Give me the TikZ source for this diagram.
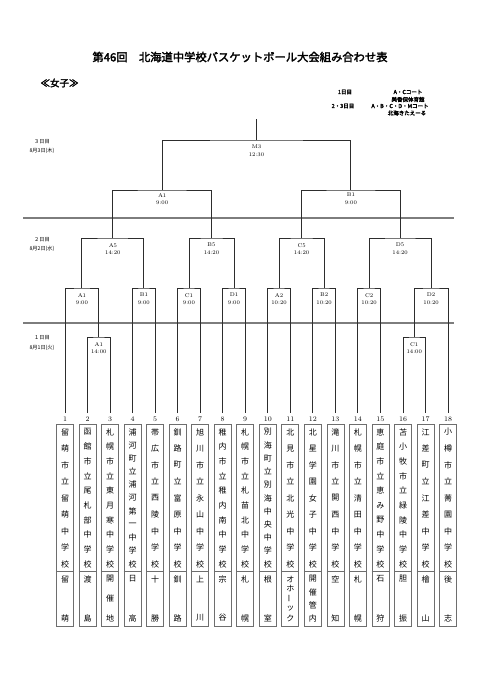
\documentclass[tikz,border=0pt]{standalone}
\usepackage{fontspec}
\newfontfamily\cjk{Noto Sans CJK JP}
\newfontfamily\cjkbold{Noto Sans CJK JP}[FakeBold=2.5]
\usetikzlibrary{calc,positioning}
\definecolor{bracketgray}{RGB}{45,45,45}
\definecolor{rulegray}{RGB}{125,125,125}
\definecolor{boxgray}{RGB}{110,110,110}

\tikzset{
  bracket/.style={draw=bracketgray, line width=0.9pt},
  dayrule/.style={draw=rulegray, line width=1.5pt},
  boxline/.style={draw=boxgray, line width=0.8pt},
  matchlbl/.style={font=\fontsize{5.5}{7.5}\selectfont, align=center, inner sep=0pt, anchor=north},
  daylbl/.style={font=\cjk\fontsize{5.2}{9.5}\selectfont, align=center, inner sep=0pt},
  teamno/.style={font=\fontsize{7}{7}\selectfont, inner sep=0pt},
  schoolbox/.style={boxline, minimum width=17pt, minimum height=202pt, inner sep=0pt},
  tatechar/.style={font=\cjk\fontsize{8}{8}\selectfont, inner sep=0pt},
  infolbl/.style={font=\cjkbold\fontsize{5.5}{6}\selectfont, inner sep=0pt}
}

% vertical text: name, x, top y, bottom y, count, chars
\newcommand{\tate}[6]{%
  \foreach \ch [count=\k from 0] in {#6}
    \node[tatechar] (#1-\k) at (#2,{#3+\k*(#4-#3)/(#5-1)}) {\ch};
}

% team: no, x, count, school, count, area
\newcommand{\team}[6]{%
  \coordinate (t#1) at (#2,413);
  \node[teamno] (no#1) at (#2,419) {#1};
  \node[schoolbox] (box#1) at (#2,525) {};
  \draw[boxline] (box#1.west |- 0,571) -- (box#1.east |- 0,571);
  \tate{s#1}{#2}{432}{564}{#3}{#4}
  \tate{a#1}{#2}{579}{618}{#5}{#6}
}

\begin{document}
\begin{tikzpicture}[x=1pt,y=-1pt]

    \useasboundingbox[fill=white] (0,0) rectangle (481,680);

    % heading
    \node[font=\cjkbold\fontsize{11.3}{13}\selectfont] (title) at (240,57) {第46回　北海道中学校バスケットボール大会組み合わせ表};
    \node[anchor=west, font=\cjkbold\fontsize{9.5}{10}\selectfont] (girls) at (37,83) {≪女子≫};

    % courts
    \node[infolbl] (day1lbl) at (345,92) {1日目};
    \node[infolbl] (court1) at (408,92) {A・Cコート};
    \node[infolbl] (hall1) at (408,99.5) {美香保体育館};
    \node[infolbl] (day23lbl) at (343,106) {2・3日目};
    \node[infolbl] (court23) at (400,106) {A・B・C・D・Mコート};
    \node[infolbl] (hall23) at (407,113) {北海きたえーる};

    % days
    \node[daylbl] (day3) at (42,146.5) {３日目\\8月3日(木)};
    \node[daylbl] (day2) at (42,244.5) {２日目\\8月2日(水)};
    \node[daylbl] (day1) at (42,343) {１日目\\8月1日(火)};

    \draw[dayrule] (23,218) -- (454,218);
    \draw[dayrule] (23,323) -- (454,323);

    % teams
    \team{1}{65}{9}{留,萌,市,立,留,萌,中,学,校}{2}{留,萌}
    \team{2}{87.5}{10}{函,館,市,立,尾,札,部,中,学,校}{2}{渡,島}
    \team{3}{110.1}{10}{札,幌,市,立,東,月,寒,中,学,校}{3}{開,催,地}
    \team{4}{132.6}{11}{浦,河,町,立,浦,河,第,一,中,学,校}{2}{日,高}
    \team{5}{155.1}{9}{帯,広,市,立,西,陵,中,学,校}{2}{十,勝}
    \team{6}{177.7}{9}{釧,路,町,立,富,原,中,学,校}{2}{釧,路}
    \team{7}{200.2}{9}{旭,川,市,立,永,山,中,学,校}{2}{上,川}
    \team{8}{222.7}{10}{稚,内,市,立,稚,内,南,中,学,校}{2}{宗,谷}
    \team{9}{245.2}{10}{札,幌,市,立,札,苗,北,中,学,校}{2}{札,幌}
    \team{10}{267.8}{11}{別,海,町,立,別,海,中,央,中,学,校}{2}{根,室}
    \team{11}{290.3}{9}{北,見,市,立,北,光,中,学,校}{5}{オ,ホ,{\rotatebox{90}{ー}},ッ,ク}
    \team{12}{312.8}{9}{北,星,学,園,女,子,中,学,校}{4}{開,催,管,内}
    \team{13}{335.4}{9}{滝,川,市,立,開,西,中,学,校}{2}{空,知}
    \team{14}{357.9}{9}{札,幌,市,立,清,田,中,学,校}{2}{札,幌}
    \team{15}{380.4}{10}{恵,庭,市,立,恵,み,野,中,学,校}{2}{石,狩}
    \team{16}{403}{10}{苫,小,牧,市,立,緑,陵,中,学,校}{2}{胆,振}
    \team{17}{425.5}{9}{江,差,町,立,江,差,中,学,校}{2}{檜,山}
    \team{18}{448}{9}{小,樽,市,立,菁,園,中,学,校}{2}{後,志}

    % match points
    \coordinate (d1a1) at (98.8,337);
    \coordinate (d1c1) at (414.25,337);
    \coordinate (d2a1) at (81.9,288);
    \coordinate (d2b1) at (143.85,288);
    \coordinate (d2c1) at (188.95,288);
    \coordinate (d2d1) at (233.95,288);
    \coordinate (d2a2) at (279.05,288);
    \coordinate (d2b2) at (324.1,288);
    \coordinate (d2c2) at (369.15,288);
    \coordinate (d2d2) at (431.1,288);
    \coordinate (a5) at (112.9,238);
    \coordinate (b5) at (211.45,238);
    \coordinate (c5) at (301.6,238);
    \coordinate (d5) at (400.1,238);
    \coordinate (d3a1) at (162.2,190);
    \coordinate (d3b1) at (350.85,190);
    \coordinate (m3) at (256.5,140);
    \coordinate (m3top) at (256.5,119);

    % day 1
    \draw[bracket] (t2) |- (d1a1) -| (t3);
    \draw[bracket] (t16) |- (d1c1) -| (t17);
    \node[matchlbl] (d1a1lbl) at ($(d1a1)+(0,5)$) {A1\\14:00};
    \node[matchlbl] (d1c1lbl) at ($(d1c1)+(0,5)$) {C1\\14:00};

    % day 2
    \draw[bracket] (t1) |- (d2a1) -| (d1a1);
    \draw[bracket] (t4) |- (d2b1) -| (t5);
    \draw[bracket] (t6) |- (d2c1) -| (t7);
    \draw[bracket] (t8) |- (d2d1) -| (t9);
    \draw[bracket] (t10) |- (d2a2) -| (t11);
    \draw[bracket] (t12) |- (d2b2) -| (t13);
    \draw[bracket] (t14) |- (d2c2) -| (t15);
    \draw[bracket] (d1c1) |- (d2d2) -| (t18);
    \node[matchlbl] (d2a1lbl) at ($(d2a1)+(0,5)$) {A1\\9:00};
    \node[matchlbl] (d2b1lbl) at ($(d2b1)+(0,5)$) {B1\\9:00};
    \node[matchlbl] (d2c1lbl) at ($(d2c1)+(0,5)$) {C1\\9:00};
    \node[matchlbl] (d2d1lbl) at ($(d2d1)+(0,5)$) {D1\\9:00};
    \node[matchlbl] (d2a2lbl) at ($(d2a2)+(0,5)$) {A2\\10:20};
    \node[matchlbl] (d2b2lbl) at ($(d2b2)+(0,5)$) {B2\\10:20};
    \node[matchlbl] (d2c2lbl) at ($(d2c2)+(0,5)$) {C2\\10:20};
    \node[matchlbl] (d2d2lbl) at ($(d2d2)+(0,5)$) {D2\\10:20};

    \draw[bracket] (d2a1) |- (a5) -| (d2b1);
    \draw[bracket] (d2c1) |- (b5) -| (d2d1);
    \draw[bracket] (d2a2) |- (c5) -| (d2b2);
    \draw[bracket] (d2c2) |- (d5) -| (d2d2);
    \node[matchlbl] (a5lbl) at ($(a5)+(0,5)$) {A5\\14:20};
    \node[matchlbl] (b5lbl) at ($(b5)+(0,5)$) {B5\\14:20};
    \node[matchlbl] (c5lbl) at ($(c5)+(0,5)$) {C5\\14:20};
    \node[matchlbl] (d5lbl) at ($(d5)+(0,5)$) {D5\\14:20};

    % day 3
    \draw[bracket] (a5) |- (d3a1) -| (b5);
    \draw[bracket] (c5) |- (d3b1) -| (d5);
    \node[matchlbl] (d3a1lbl) at ($(d3a1)+(0,3)$) {A1\\9:00};
    \node[matchlbl] (d3b1lbl) at ($(d3b1)+(0,3)$) {B1\\9:00};

    \draw[bracket] (d3a1) |- (m3) -| (d3b1);
    \draw[bracket] (m3) -- (m3top);
    \node[matchlbl] (m3lbl) at ($(m3)+(0,5)$) {M3\\12:30};

\end{tikzpicture}
\end{document}
